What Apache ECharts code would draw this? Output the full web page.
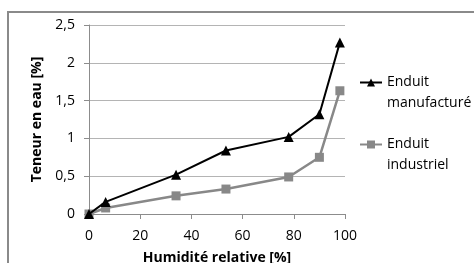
<!DOCTYPE html>
<html>
<head>
<meta charset="utf-8">
<script src="https://cdn.jsdelivr.net/npm/echarts@6/dist/echarts.min.js"></script>
<style>
  html, body { margin: 0; padding: 0; background: #fff; }
  #chart { width: 474px; height: 263px; }
</style>
</head>
<body>
<div id="chart"></div>
<script>
// humidite relative [%]
var humidite = [0, 6.5, 34, 53.5, 78, 90, 98];
var manufacture = [0, 0.16, 0.52, 0.84, 1.02, 1.32, 2.27];
var industriel = [0, 0.08, 0.24, 0.33, 0.49, 0.75, 1.63];
var seriesNames = ['Enduit\nmanufacturé', 'Enduit\nindustriel'];

function pairs(xs, ys) {
  return xs.map(function (x, i) { return [x, ys[i]]; });
}

var font = 'Open Sans';
var chart = echarts.init(document.getElementById('chart'));
chart.setOption({
  animation: false,
  textStyle: { fontFamily: font },
  graphic: [
    {
      type: 'rect',
      shape: { x: 8, y: 12, width: 520, height: 320 },
      style: { fill: 'none', stroke: '#8a8a8a', lineWidth: 2 },
      silent: true
    }
  ],
  grid: { left: 89, top: 25, width: 256, height: 189, outerBoundsMode: 'none' },
  legend: {
    orient: 'vertical',
    left: 359,
    top: 51,
    padding: 0,
    itemWidth: 22,
    itemHeight: 10,
    itemGap: -1,
    data: seriesNames,
    // blank first line puts the first text line level with the icon
    formatter: function (name) { return '\n' + name; },
    textStyle: {
      fontFamily: font,
      fontSize: 14,
      color: '#000',
      lineHeight: 21
    }
  },
  xAxis: {
    type: 'value',
    min: 0,
    max: 100,
    interval: 20,
    name: 'Humidité relative [%]',
    nameLocation: 'middle',
    nameGap: 37,
    nameTextStyle: { fontFamily: font, fontSize: 14, fontWeight: 'bold', color: '#000' },
    axisLine: { show: true, lineStyle: { color: '#8c8c8c', width: 1 } },
    axisTick: { show: true, inside: false, length: 5, lineStyle: { color: '#8c8c8c' } },
    axisLabel: { fontFamily: font, fontSize: 14, color: '#000', margin: 15 },
    splitLine: { show: false }
  },
  yAxis: {
    type: 'value',
    min: 0,
    max: 2.5,
    interval: 0.5,
    name: 'Teneur en eau [%]',
    nameLocation: 'middle',
    nameGap: 38,
    nameTextStyle: { fontFamily: font, fontSize: 14, fontWeight: 'bold', color: '#000' },
    axisLine: { show: true, lineStyle: { color: '#8c8c8c', width: 1 } },
    axisTick: { show: true, inside: false, length: 5, lineStyle: { color: '#8c8c8c' } },
    axisLabel: {
      fontFamily: font,
      fontSize: 14,
      color: '#000',
      margin: 14,
      formatter: function (v) { return String(v).replace('.', ','); }
    },
    splitLine: { show: true, lineStyle: { color: '#b4b4b4', width: 1 } }
  },
  series: [
    {
      name: seriesNames[0],
      type: 'line',
      data: pairs(humidite, manufacture),
      symbol: 'triangle',
      symbolSize: 10,
      lineStyle: { color: '#000', width: 2 },
      itemStyle: { color: '#000' },
      z: 3
    },
    {
      name: seriesNames[1],
      type: 'line',
      data: pairs(humidite, industriel),
      symbol: 'rect',
      symbolSize: 9,
      lineStyle: { color: '#888', width: 2.5 },
      itemStyle: { color: '#888' },
      z: 2
    }
  ]
});
</script>
</body>
</html>
